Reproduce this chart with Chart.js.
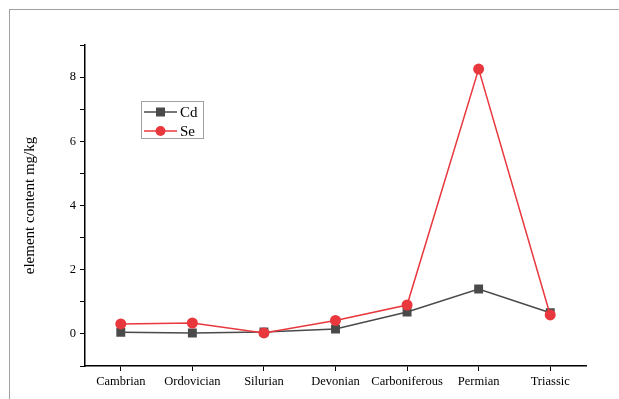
<!DOCTYPE html>
<html>
<head>
<meta charset="utf-8">
<script src="https://cdn.jsdelivr.net/npm/chart.js@4/dist/chart.umd.min.js"></script>
<style>
  html, body { margin: 0; padding: 0; background: #fff; }
  #wrap { position: relative; width: 619px; height: 399px; overflow: hidden; }
  #frame { position: absolute; left: 9px; top: 9px; width: 700px; height: 500px; border: 1px solid #a0a0a0; }
  canvas { position: absolute; left: 0; top: 0; }
</style>
</head>
<body>
<div id="wrap">
  <div id="frame"></div>
  <canvas id="grafico" width="619" height="399"></canvas>
</div>
<script>
const periodos = ['Cambrian', 'Ordovician', 'Silurian', 'Devonian', 'Carboniferous', 'Permian', 'Triassic'];
const valoresCd = [0.05, 0.03, 0.06, 0.15, 0.68, 1.40, 0.66];
const valoresSe = [0.31, 0.34, 0.03, 0.42, 0.90, 8.25, 0.59];
const ticksY = [0, 2, 4, 6, 8];

const COR_CD = '#4a4a4a';
const COR_SE = '#e8383d';
const FONTE = '"Liberation Serif", "Times New Roman", serif';

// legenda desenhada no canvas (linha + marcador, como no original)
const legendaPlugin = {
    id: 'legendaCustom',
    afterDraw(chart) {
        const ctx = chart.ctx;
        ctx.save();
        ctx.strokeStyle = '#a0a0a0';
        ctx.lineWidth = 1;
        ctx.strokeRect(141.5, 101.5, 62, 37);
        const itens = [
            { nome: 'Cd', cor: COR_CD, y: 112, tipo: 'rect' },
            { nome: 'Se', cor: COR_SE, y: 131, tipo: 'circle' }
        ];
        itens.forEach(it => {
            ctx.strokeStyle = it.cor;
            ctx.lineWidth = 1.5;
            ctx.beginPath();
            ctx.moveTo(144, it.y);
            ctx.lineTo(177, it.y);
            ctx.stroke();
            ctx.fillStyle = it.cor;
            if (it.tipo === 'rect') {
                ctx.fillRect(156, it.y - 4.5, 9, 9);
            } else {
                ctx.beginPath();
                ctx.arc(160.5, it.y, 5, 0, Math.PI * 2);
                ctx.fill();
            }
            ctx.fillStyle = '#000';
            ctx.font = '15px ' + FONTE;
            ctx.textBaseline = 'middle';
            ctx.fillText(it.nome, 180, it.y + 1);
        });
        ctx.restore();
    }
};

new Chart(document.getElementById('grafico').getContext('2d'), {
    type: 'line',
    data: {
        labels: periodos,
        datasets: [{
            label: 'Cd',
            data: valoresCd,
            borderColor: COR_CD,
            backgroundColor: COR_CD,
            borderWidth: 1.5,
            pointStyle: 'rect',
            pointRadius: 6.3,
            pointBorderWidth: 0,
            order: 1
        }, {
            label: 'Se',
            data: valoresSe,
            borderColor: COR_SE,
            backgroundColor: COR_SE,
            borderWidth: 1.5,
            pointStyle: 'circle',
            pointRadius: 5.5,
            pointBorderWidth: 0,
            order: 0
        }]
    },
    options: {
        responsive: false,
        animation: false,
        layout: { padding: { top: 45, right: 33, left: 0, bottom: 0 } },
        plugins: {
            legend: { display: false },
            tooltip: { enabled: false }
        },
        scales: {
            x: {
                offset: true,
                grid: { drawOnChartArea: false, drawTicks: true, tickLength: 5, color: '#000', lineWidth: 1 },
                border: { display: true, color: '#000', width: 1.5 },
                ticks: { color: '#000', font: { family: FONTE, size: 12.5 }, padding: 3, maxRotation: 0, autoSkip: false },
                afterFit: s => { s.height = 33; }
            },
            y: {
                min: -1,
                max: 9,
                afterBuildTicks: s => {
                    const lista = [];
                    for (let v = -1; v <= 9; v++) lista.push({ value: v });
                    s.ticks = lista;
                },
                grid: { drawOnChartArea: false, drawTicks: true, tickLength: 5, color: '#000', lineWidth: 1 },
                border: { display: true, color: '#000', width: 1.5 },
                ticks: {
                    color: '#000',
                    font: { family: FONTE, size: 12.5 },
                    padding: 4,
                    callback: v => ticksY.includes(v) ? String(v) : ''
                },
                title: {
                    display: true,
                    text: 'element content mg/kg',
                    color: '#000',
                    font: { family: FONTE, size: 15 },
                    padding: { top: 21, bottom: 0 }
                },
                afterFit: s => { s.width = 85; }
            }
        }
    },
    plugins: [legendaPlugin]
});
</script>
</body>
</html>
